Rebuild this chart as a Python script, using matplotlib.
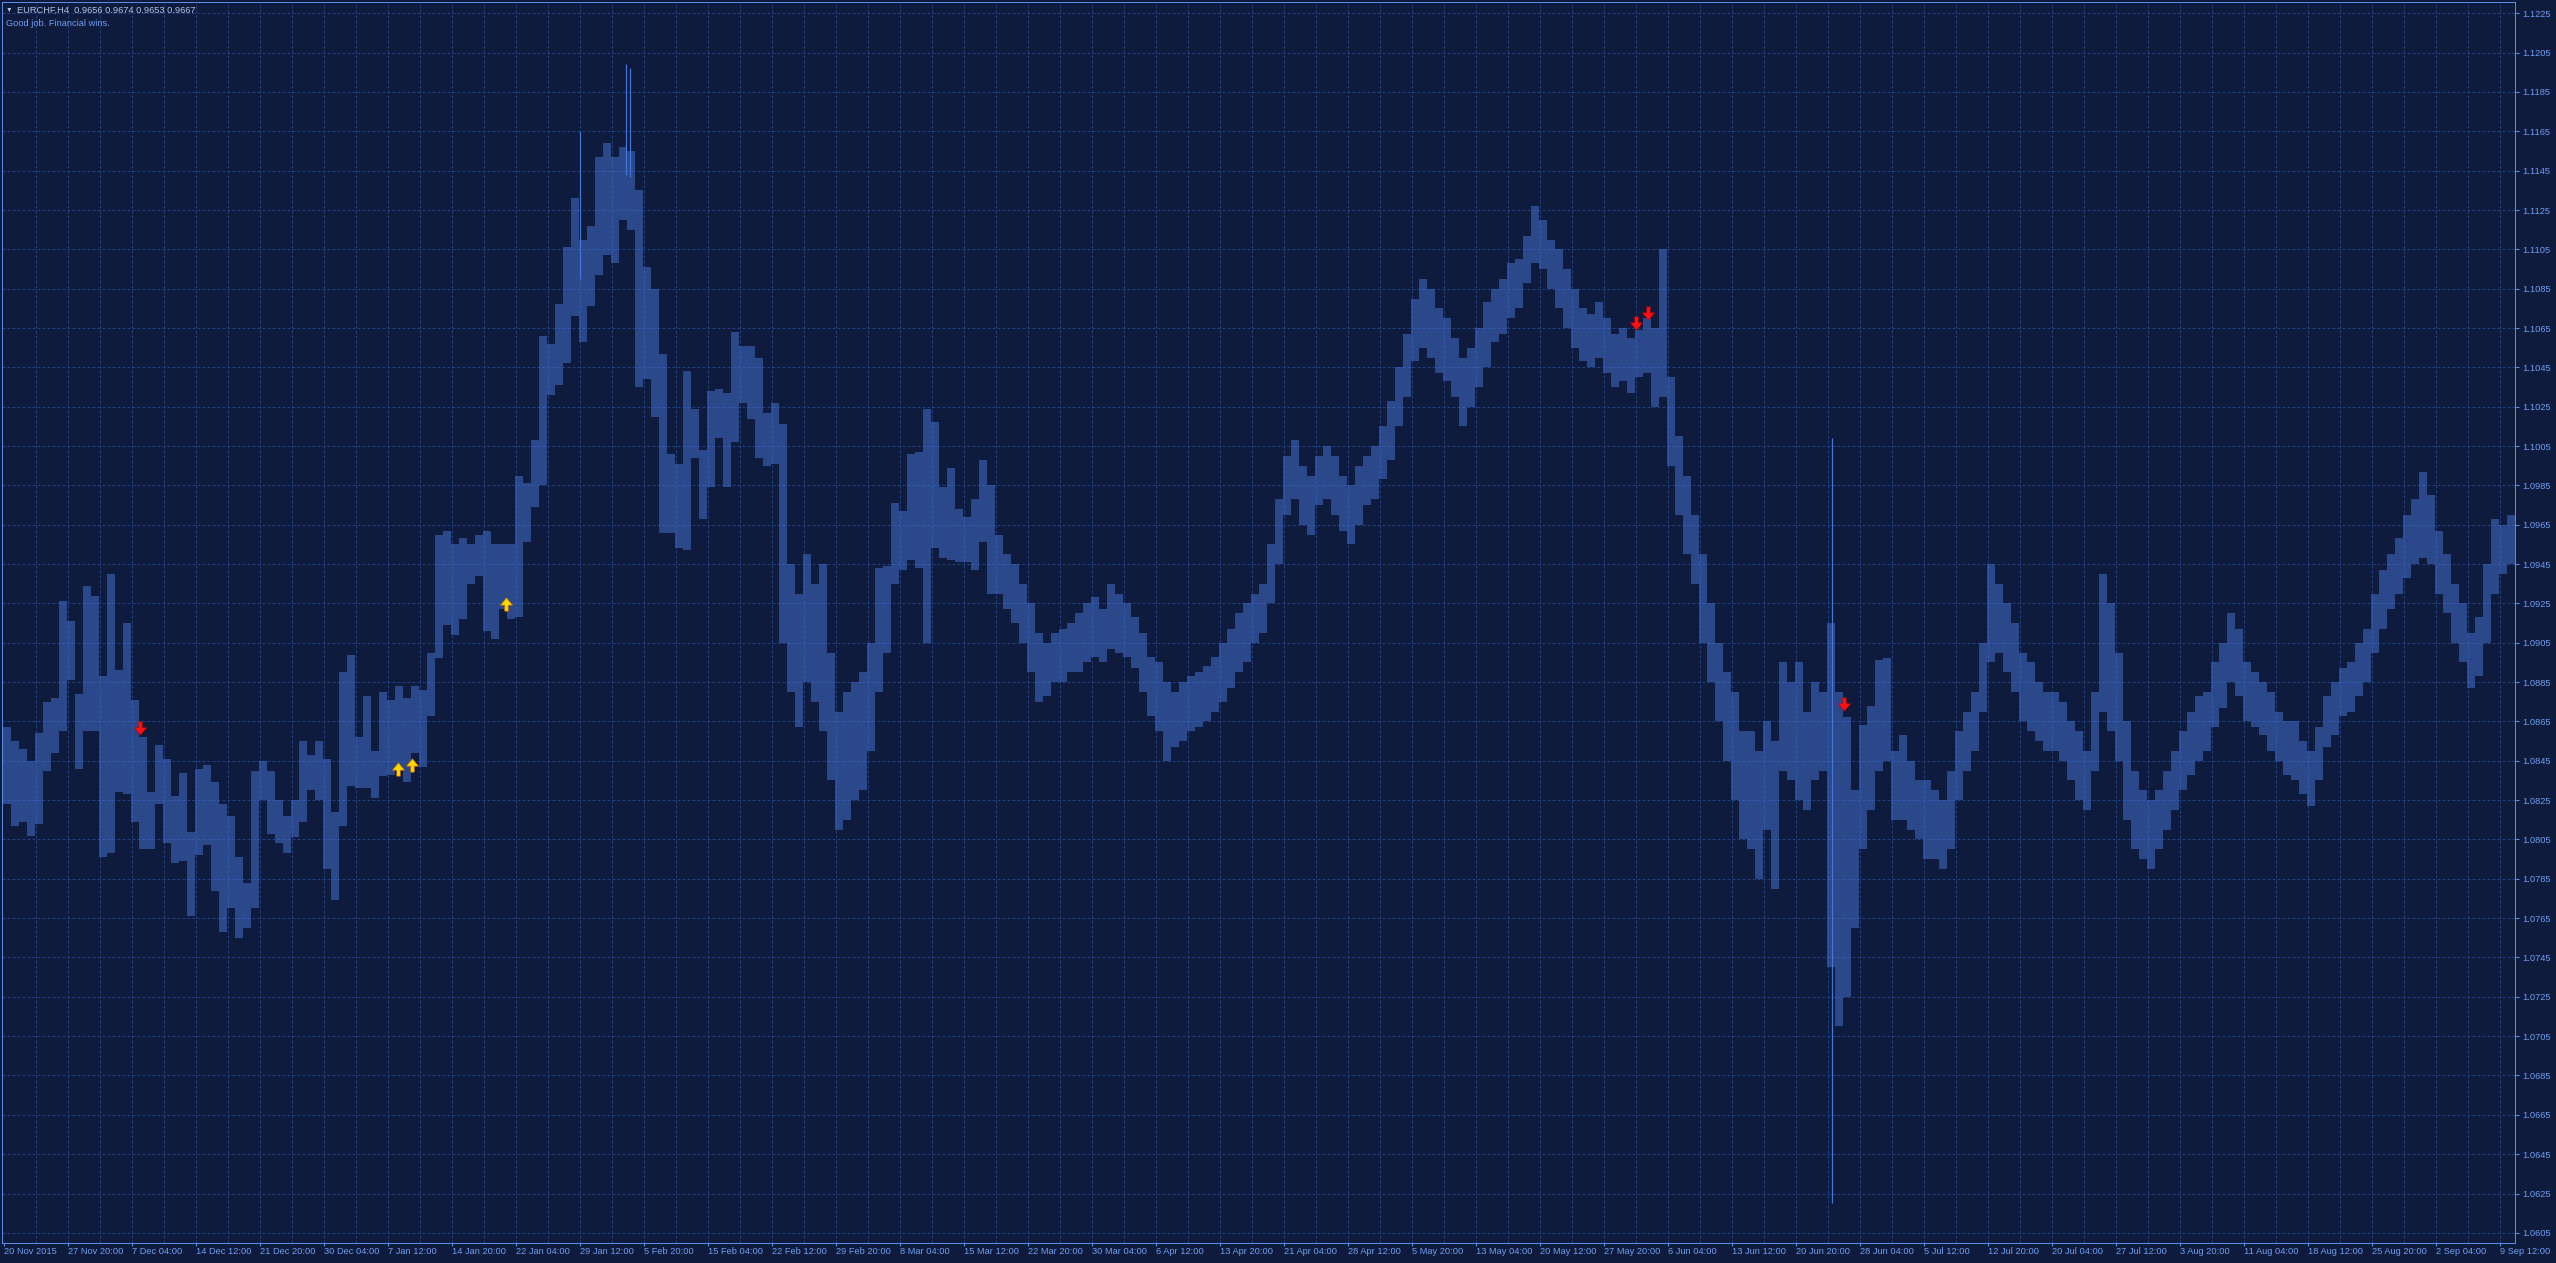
import matplotlib
matplotlib.use("Agg")
import matplotlib.pyplot as plt
from matplotlib.path import Path
import numpy as np

W, H, DPI = 2556, 1263, 96

# ---------------- data ----------------
header_symbol = "EURCHF,H4  0.9656 0.9674 0.9653 0.9667"
header_comment = "Good job. Financial wins."

x_labels = ["20 Nov 2015", "27 Nov 20:00", "7 Dec 04:00", "14 Dec 12:00", "21 Dec 20:00",
            "30 Dec 04:00", "7 Jan 12:00", "14 Jan 20:00", "22 Jan 04:00", "29 Jan 12:00",
            "5 Feb 20:00", "15 Feb 04:00", "22 Feb 12:00", "29 Feb 20:00", "8 Mar 04:00",
            "15 Mar 12:00", "22 Mar 20:00", "30 Mar 04:00", "6 Apr 12:00", "13 Apr 20:00",
            "21 Apr 04:00", "28 Apr 12:00", "5 May 20:00", "13 May 04:00", "20 May 12:00",
            "27 May 20:00", "6 Jun 04:00", "13 Jun 12:00", "20 Jun 20:00", "28 Jun 04:00",
            "5 Jul 12:00", "12 Jul 20:00", "20 Jul 04:00", "27 Jul 12:00", "3 Aug 20:00",
            "11 Aug 04:00", "18 Aug 12:00", "25 Aug 20:00", "2 Sep 04:00", "9 Sep 12:00"]
bars_per_label = 32
bars_per_grid = 16

price_labels = ["1.0605", "1.0625", "1.0645", "1.0665", "1.0685", "1.0705", "1.0725", "1.0745",
                "1.0765", "1.0785", "1.0805", "1.0825", "1.0845", "1.0865", "1.0885", "1.0905",
                "1.0925", "1.0945", "1.0965", "1.0985", "1.1005", "1.1025", "1.1045", "1.1065",
                "1.1085", "1.1105", "1.1125", "1.1145", "1.1165", "1.1185", "1.1205", "1.1225"]

# H4 bars aggregated in blocks of 4 bars: block high / block low
bars_per_block = 4
block_high = [
    1.0862, 1.0855, 1.0851, 1.0845, 1.0859, 1.0875, 1.0877, 1.0926, 1.0916, 1.0879,
    1.0934, 1.0929, 1.0888, 1.0940, 1.0891, 1.0915, 1.0876, 1.0857, 1.0829, 1.0853,
    1.0846, 1.0827, 1.0839, 1.0809, 1.0841, 1.0843, 1.0834, 1.0823, 1.0817, 1.0796,
    1.0783, 1.0840, 1.0845, 1.0840, 1.0825, 1.0817, 1.0825, 1.0855, 1.0848, 1.0855,
    1.0846, 1.0819, 1.0890, 1.0899, 1.0857, 1.0878, 1.0850, 1.0880, 1.0876, 1.0883,
    1.0877, 1.0883, 1.0881, 1.0900, 1.0960, 1.0962, 1.0955, 1.0958, 1.0955, 1.0960,
    1.0962, 1.0955, 1.0955, 1.0955, 1.0990, 1.0986, 1.1008, 1.1061, 1.1057, 1.1077,
    1.1106, 1.1131, 1.1110, 1.1117, 1.1152, 1.1159, 1.1152, 1.1157, 1.1155, 1.1135,
    1.1096, 1.1085, 1.1052, 1.1001, 1.0996, 1.1043, 1.1024, 1.1003, 1.1033, 1.1034,
    1.1032, 1.1063, 1.1056, 1.1056, 1.1050, 1.1022, 1.1027, 1.1016, 1.0945, 1.0930,
    1.0950, 1.0935, 1.0945, 1.0900, 1.0870, 1.0880, 1.0885, 1.0890, 1.0905, 1.0943,
    1.0944, 1.0976, 1.0972, 1.1001, 1.1002, 1.1024, 1.1017, 1.0984, 1.0994, 1.0973,
    1.0969, 1.0978, 1.0998, 1.0985, 1.0960, 1.0950, 1.0945, 1.0935, 1.0925, 1.0910,
    1.0905, 1.0910, 1.0912, 1.0915, 1.0920, 1.0925, 1.0928, 1.0922, 1.0935, 1.0930,
    1.0925, 1.0918, 1.0910, 1.0898, 1.0895, 1.0885, 1.0880, 1.0885, 1.0888, 1.0890,
    1.0893, 1.0898, 1.0905, 1.0912, 1.0920, 1.0925, 1.0930, 1.0935, 1.0955, 1.0978,
    1.1000, 1.1008, 1.0995, 1.0990, 1.1000, 1.1005, 1.1000, 1.0990, 1.0985, 1.0995,
    1.1000, 1.1005, 1.1015, 1.1028, 1.1045, 1.1062, 1.1080, 1.1090, 1.1085, 1.1075,
    1.1070, 1.1060, 1.1050, 1.1055, 1.1065, 1.1078, 1.1085, 1.1090, 1.1098, 1.1100,
    1.1112, 1.1127, 1.1120, 1.1110, 1.1105, 1.1095, 1.1085, 1.1075, 1.1072, 1.1078,
    1.1070, 1.1062, 1.1065, 1.1060, 1.1064, 1.1070, 1.1065, 1.1105, 1.1040, 1.1010,
    1.0990, 1.0970, 1.0950, 1.0925, 1.0905, 1.0890, 1.0880, 1.0860, 1.0860, 1.0850,
    1.0865, 1.0855, 1.0895, 1.0885, 1.0895, 1.0870, 1.0885, 1.0880, 1.0915, 1.0880,
    1.0867, 1.0830, 1.0863, 1.0873, 1.0896, 1.0897, 1.0850, 1.0858, 1.0845, 1.0835,
    1.0835, 1.0830, 1.0825, 1.0840, 1.0860, 1.0870, 1.0880, 1.0905, 1.0945, 1.0935,
    1.0925, 1.0915, 1.0900, 1.0895, 1.0885, 1.0880, 1.0880, 1.0875, 1.0865, 1.0860,
    1.0850, 1.0880, 1.0940, 1.0925, 1.0900, 1.0865, 1.0840, 1.0830, 1.0825, 1.0830,
    1.0840, 1.0850, 1.0860, 1.0870, 1.0878, 1.0880, 1.0895, 1.0905, 1.0920, 1.0912,
    1.0895, 1.0890, 1.0885, 1.0880, 1.0870, 1.0865, 1.0865, 1.0855, 1.0850, 1.0862,
    1.0878, 1.0885, 1.0892, 1.0895, 1.0905, 1.0912, 1.0930, 1.0942, 1.0950, 1.0958,
    1.0970, 1.0978, 1.0992, 1.0980, 1.0962, 1.0950, 1.0935, 1.0925, 1.0910, 1.0918,
    1.0945, 1.0968, 1.0965, 1.0970]
block_low = [
    1.0823, 1.0812, 1.0814, 1.0807, 1.0813, 1.0840, 1.0849, 1.0860, 1.0886, 1.0841,
    1.0860, 1.0860, 1.0796, 1.0798, 1.0829, 1.0828, 1.0814, 1.0800, 1.0800, 1.0823,
    1.0803, 1.0793, 1.0794, 1.0766, 1.0797, 1.0802, 1.0779, 1.0758, 1.0770, 1.0755,
    1.0760, 1.0770, 1.0825, 1.0808, 1.0803, 1.0798, 1.0806, 1.0814, 1.0830, 1.0825,
    1.0790, 1.0774, 1.0812, 1.0832, 1.0831, 1.0831, 1.0826, 1.0837, 1.0838, 1.0840,
    1.0834, 1.0849, 1.0842, 1.0868, 1.0897, 1.0914, 1.0909, 1.0917, 1.0935, 1.0939,
    1.0911, 1.0907, 1.0922, 1.0917, 1.0918, 1.0956, 1.0974, 1.0985, 1.1031, 1.1036,
    1.1047, 1.1071, 1.1058, 1.1076, 1.1092, 1.1102, 1.1098, 1.1120, 1.1115, 1.1035,
    1.1039, 1.1020, 1.0961, 1.0961, 1.0953, 1.0952, 1.0999, 1.0968, 1.0984, 1.1009,
    1.0984, 1.1007, 1.1027, 1.1019, 1.0999, 1.0995, 1.0996, 1.0905, 1.0880, 1.0862,
    1.0885, 1.0875, 1.0860, 1.0835, 1.0810, 1.0815, 1.0825, 1.0830, 1.0850, 1.0880,
    1.0900, 1.0935, 1.0942, 1.0947, 1.0943, 1.0905, 1.0953, 1.0948, 1.0947, 1.0946,
    1.0946, 1.0942, 1.0956, 1.0930, 1.0930, 1.0922, 1.0915, 1.0905, 1.0890, 1.0875,
    1.0878, 1.0885, 1.0885, 1.0890, 1.0890, 1.0895, 1.0898, 1.0895, 1.0902, 1.0900,
    1.0898, 1.0892, 1.0880, 1.0868, 1.0860, 1.0845, 1.0852, 1.0855, 1.0860, 1.0862,
    1.0865, 1.0870, 1.0875, 1.0882, 1.0890, 1.0895, 1.0905, 1.0910, 1.0925, 1.0945,
    1.0970, 1.0978, 1.0965, 1.0960, 1.0975, 1.0978, 1.0970, 1.0962, 1.0955, 1.0965,
    1.0975, 1.0978, 1.0988, 1.0998, 1.1015, 1.1030, 1.1048, 1.1055, 1.1050, 1.1042,
    1.1038, 1.1030, 1.1015, 1.1025, 1.1035, 1.1045, 1.1058, 1.1062, 1.1070, 1.1075,
    1.1088, 1.1098, 1.1095, 1.1085, 1.1075, 1.1065, 1.1055, 1.1048, 1.1045, 1.1050,
    1.1042, 1.1035, 1.1038, 1.1032, 1.1040, 1.1042, 1.1025, 1.1030, 1.0995, 1.0970,
    1.0950, 1.0935, 1.0905, 1.0885, 1.0865, 1.0845, 1.0825, 1.0805, 1.0800, 1.0785,
    1.0810, 1.0780, 1.0840, 1.0835, 1.0825, 1.0820, 1.0835, 1.0840, 1.0740, 1.0710,
    1.0725, 1.0760, 1.0800, 1.0820, 1.0840, 1.0845, 1.0815, 1.0815, 1.0810, 1.0805,
    1.0795, 1.0795, 1.0790, 1.0800, 1.0825, 1.0840, 1.0850, 1.0870, 1.0895, 1.0900,
    1.0890, 1.0880, 1.0865, 1.0860, 1.0855, 1.0850, 1.0850, 1.0845, 1.0835, 1.0825,
    1.0820, 1.0840, 1.0870, 1.0860, 1.0845, 1.0815, 1.0800, 1.0795, 1.0790, 1.0800,
    1.0810, 1.0820, 1.0830, 1.0838, 1.0845, 1.0850, 1.0862, 1.0872, 1.0885, 1.0878,
    1.0865, 1.0862, 1.0858, 1.0850, 1.0845, 1.0838, 1.0835, 1.0828, 1.0822, 1.0835,
    1.0852, 1.0858, 1.0868, 1.0870, 1.0878, 1.0885, 1.0900, 1.0912, 1.0922, 1.0930,
    1.0938, 1.0945, 1.0948, 1.0945, 1.0930, 1.0920, 1.0905, 1.0895, 1.0882, 1.0888,
    1.0905, 1.0930, 1.0940, 1.0945]

# single bars that stick far out of their block (bar index, high, low)
spike_bar = [288, 311, 313, 914]
spike_high = [1.1165, 1.1199, 1.1197, 1.1009]
spike_low = [1.1090, 1.1143, 1.1142, 1.0620]

# signal arrows: bar index and price at the arrow's top (sell) / tip (buy)
sell_bar = [68, 816, 822, 920]
sell_price = [1.0865, 1.1071, 1.1076, 1.0877]
buy_bar = [197, 204, 251]
buy_price = [1.0844, 1.0846, 1.0928]

# ---------------- style ----------------
BG = "#0f1b3d"
GRID = "#21407f"
AXIS = "#5a8ce6"
TXT = "#6e9ef0"
HDR = "#b4c2e2"
BAR_LINE = "#4676d8"
FONT = ["Liberation Sans", "DejaVu Sans"]
FS = 6.9

plt.rcParams["hatch.linewidth"] = 0.75

# pixel geometry of the plot frame
X0, X1, Y0, Y1 = 2.0, 2515.0, 2.0, 1243.0
px_per_bar = 2.0
first_bar_px = 3.6
px_per_price = 19670.0
ref_price, ref_px = 1.1225, 13.3

fig = plt.figure(figsize=(W / DPI, H / DPI), dpi=DPI, facecolor=BG)
ax = fig.add_axes([X0 / W, (H - Y1) / H, (X1 - X0) / W, (Y1 - Y0) / H])
ax.set_facecolor(BG)

xmin = (X0 - first_bar_px) / px_per_bar
xmax = (X1 - first_bar_px) / px_per_bar
ymax = ref_price + (ref_px - Y0) / px_per_price
ymin = ref_price - (Y1 - ref_px) / px_per_price
ax.set_xlim(xmin, xmax)
ax.set_ylim(ymin, ymax)

# grid
price_vals = [float(v) for v in price_labels]
label_pos = [i * bars_per_label for i in range(len(x_labels))]
grid_pos = list(range(bars_per_grid, int(xmax) + 1, bars_per_grid))
for gx in grid_pos:
    ax.axvline(gx, color=GRID, lw=0.75, ls=(0, (3, 2)), zorder=1)
for gy in price_vals:
    ax.axhline(gy, color=GRID, lw=0.75, ls=(0, (3, 2)), zorder=1)

# bars (aggregated blocks) drawn with a 2-px vertical line texture
hi = np.array(block_high)
lo = np.array(block_low)
centers = np.arange(len(hi)) * bars_per_block + (bars_per_block - 1) / 2
ax.bar(centers, hi - lo, bottom=lo, width=bars_per_block, facecolor="none",
       edgecolor=BAR_LINE, hatch="|" * 8, linewidth=0, zorder=2)
ax.vlines(spike_bar, spike_low, spike_high, color=BAR_LINE, lw=0.9, zorder=2)

# arrows
down = Path([(-0.13, 0.5), (0.13, 0.5), (0.13, 0.05), (0.45, 0.05), (0.0, -0.5),
             (-0.45, 0.05), (-0.13, 0.05), (-0.13, 0.5)],
            [Path.MOVETO] + [Path.LINETO] * 6 + [Path.CLOSEPOLY])
up = Path([(x, -y) for x, y in down.vertices], down.codes)
half = 6.5 / px_per_price
ax.plot(sell_bar, np.array(sell_price) - half, ls="none", marker=down, ms=10,
        mfc="#ff1010", mec="#c00000", mew=0.4, zorder=5)
ax.plot(buy_bar, np.array(buy_price) - half, ls="none", marker=up, ms=10,
        mfc="#ffd800", mec="#d07000", mew=0.5, zorder=5)

# axes / ticks
for s in ax.spines.values():
    s.set_color(AXIS)
    s.set_linewidth(0.75)
ax.yaxis.tick_right()
ax.set_yticks(price_vals)
ax.set_yticklabels(price_labels)
ax.set_xticks(label_pos)
ax.set_xticklabels(x_labels)
for t in ax.get_xticklabels():
    t.set_horizontalalignment("left")
ax.tick_params(axis="x", direction="out", length=2.5, width=0.75, color=AXIS,
               labelcolor=TXT, labelsize=FS, pad=0.6)
ax.tick_params(axis="y", direction="out", length=3, width=0.75, color=AXIS,
               labelcolor=TXT, labelsize=FS, pad=2.2)
for t in ax.get_xticklabels() + ax.get_yticklabels():
    t.set_family(FONT)

# header texts
fig.text(6 / W, 1 - 10.5 / H, "\u25bc", color=HDR, fontsize=5, family=FONT, va="center", ha="left")
fig.text(17 / W, 1 - 10.5 / H, header_symbol, color=HDR, fontsize=FS, family=FONT,
         va="center", ha="left")
fig.text(6.5 / W, 1 - 24 / H, header_comment, color=TXT, fontsize=FS, family=FONT,
         va="center", ha="left")

fig.savefig("out.png", dpi=DPI, facecolor=BG)
